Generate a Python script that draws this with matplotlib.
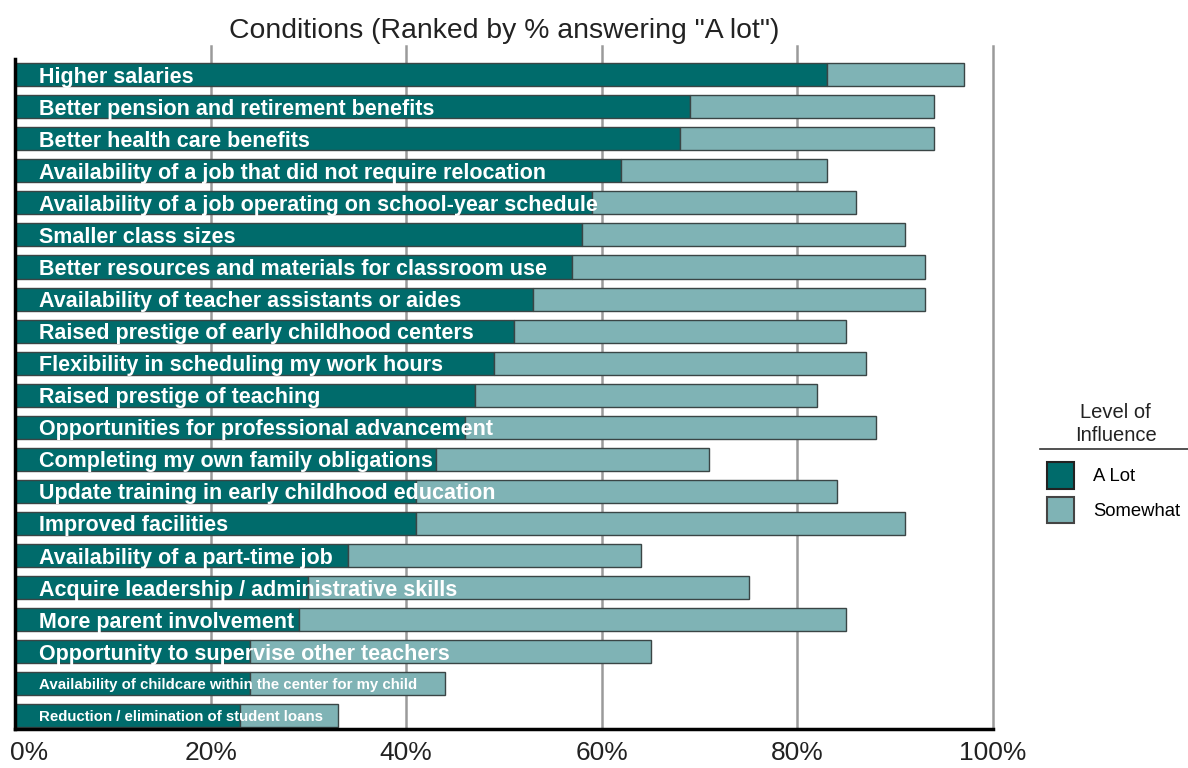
import matplotlib.pyplot as plt
import matplotlib.transforms as mtransforms
from matplotlib.patches import Patch
from matplotlib.lines import Line2D

conditions = [
    "Higher salaries",
    "Better pension and retirement benefits",
    "Better health care benefits",
    "Availability of a job that did not require relocation",
    "Availability of a job operating on school-year schedule",
    "Smaller class sizes",
    "Better resources and materials for classroom use",
    "Availability of teacher assistants or aides",
    "Raised prestige of early childhood centers",
    "Flexibility in scheduling my work hours",
    "Raised prestige of teaching",
    "Opportunities for professional advancement",
    "Completing my own family obligations",
    "Update training in early childhood education",
    "Improved facilities",
    "Availability of a part-time job",
    "Acquire leadership / administrative skills",
    "More parent involvement",
    "Opportunity to supervise other teachers",
    "Availability of childcare within the center for my child",
    "Reduction / elimination of student loans",
]
a_lot = [83, 69, 68, 62, 59, 58, 57, 53, 51, 49, 47, 46, 43, 41, 41, 34, 30, 29, 24, 24, 23]
total = [97, 94, 94, 83, 86, 91, 93, 93, 85, 87, 82, 88, 71, 84, 91, 64, 75, 85, 65, 44, 33]
somewhat = [t - a for t, a in zip(total, a_lot)]
small_labels = [19, 20]

dark = "#006B6B"
light = "#7FB3B5"
edge = "#3a4545"

plt.rcParams['font.family'] = ['Liberation Sans', 'DejaVu Sans']

fig = plt.figure(figsize=(11.88, 7.68), dpi=100)
ax = fig.add_axes([0.0126, 0.0508, 0.8233, 0.8892])

y = list(range(len(conditions)))
ax.barh(y, a_lot, height=0.72, color=dark, edgecolor=edge, linewidth=1, zorder=2)
ax.barh(y, somewhat, left=a_lot, height=0.72, color=light, edgecolor=edge, linewidth=1, zorder=2)

for i, name in enumerate(conditions):
    fs = 10.8 if i in small_labels else 15.5
    dy = 0.16 if i in small_labels else 0.25
    ax.text(2.45, i + dy, name, color="white", fontweight="bold", fontsize=fs,
            va="baseline", ha="left", zorder=3)

ax.set_xlim(0, 100)
ax.set_ylim(20.41, -0.89)
ax.set_yticks([])
ax.set_xticks([0, 20, 40, 60, 80, 100])
ax.set_xticklabels(["0%", "20%", "40%", "60%", "80%", "100%"], fontsize=19, color="#222222")
ax.tick_params(axis="x", length=0, pad=9)
first = ax.get_xticklabels()[0]
first.set_ha("left")
first.set_transform(first.get_transform() + mtransforms.ScaledTranslation(-0.05, 0, fig.dpi_scale_trans))
for gx in [20, 40, 60, 80, 100]:
    ax.axvline(gx, color="#9a9a9a", linewidth=1.8, zorder=1, clip_on=False)

for s in ["top", "right"]:
    ax.spines[s].set_visible(False)
ax.spines["left"].set_linewidth(2.5)
ax.spines["bottom"].set_linewidth(2.5)
ax.spines["left"].set_bounds(20.41, -0.48)

ax.set_title('Conditions (Ranked by % answering "A lot")', fontsize=20.4, color="#222222", pad=6)

handles = [Patch(facecolor=dark, edgecolor="#222222", linewidth=1.5, label="A Lot"),
           Patch(facecolor=light, edgecolor="#444444", linewidth=1.5, label="Somewhat")]
leg = fig.legend(handles=handles, loc="upper left", bbox_to_anchor=(0.867, 0.42),
                 frameon=False, fontsize=13.3, handlelength=1.5, handleheight=1.85,
                 labelspacing=0.42, handletextpad=1.0)
fig.text(0.939, 0.448, "Level of\nInfluence", ha="center", va="center", fontsize=14.5,
         color="#222222", linespacing=1.3)
fig.add_artist(Line2D([0.875, 1.0], [0.415, 0.415], color="#333333", linewidth=1.2))

fig.savefig("out.png", dpi=100)
